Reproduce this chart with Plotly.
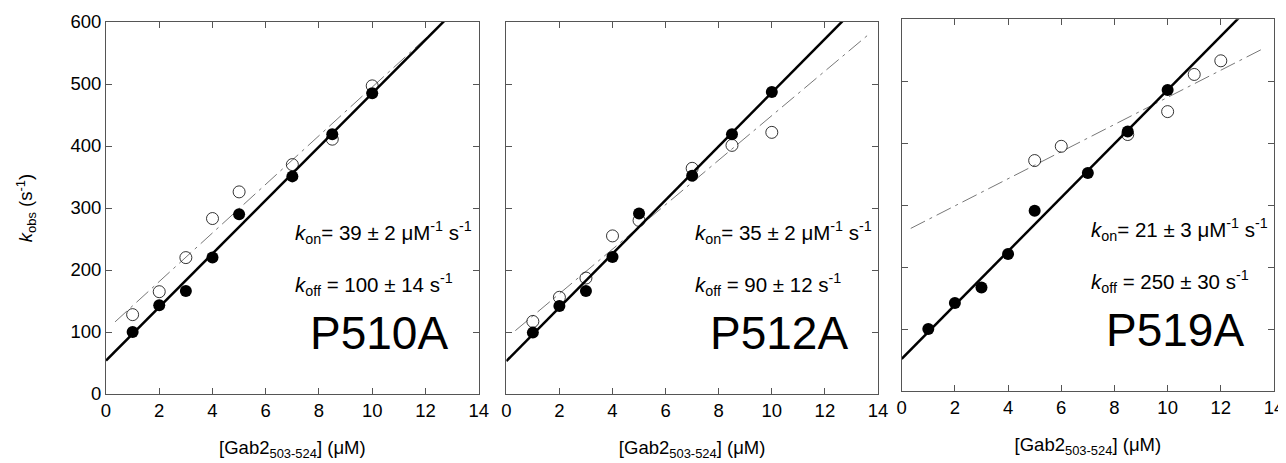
import plotly.graph_objects as go

# ---------------- data ----------------
panel_names = ["P510A", "P512A", "P519A"]
kon_text = ["39 ± 2", "35 ± 2", "21 ± 3"]
koff_text = ["100 ± 14", "90 ± 12", "250 ± 30"]

filled_x = [1, 2, 3, 4, 5, 7, 8.5, 10]
filled_y_p510 = [100, 143, 166, 220, 290, 351, 419, 485]
filled_y_p512 = [99, 142, 166, 221, 291, 352, 419, 487]
filled_y_p519 = [100, 142, 167, 221, 291, 352, 419, 486]

open_x_p510 = [1, 2, 3, 4, 5, 7, 8.5, 10]
open_y_p510 = [128, 165, 220, 283, 326, 370, 411, 497]
open_x_p512 = [1, 2, 3, 4, 5, 7, 8.5, 10]
open_y_p512 = [117, 156, 187, 255, 280, 364, 401, 422]
open_x_p519 = [5, 6, 8.5, 10, 11, 12]
open_y_p519 = [372, 395, 414, 451, 511, 533]

# linear fits (intercept, slope)
solid_intercept = [54, 53, 52]
solid_slope = [43.1, 43.3, 43.4]
dash_intercept = [103, 90, 255]
dash_slope = [39.2, 35.9, 21.9]
solid_x_range = [0, 14]
dash_x_range = [0.34, 13.66]

x_ticks = [0, 2, 4, 6, 8, 10, 12, 14]
y_ticks = [0, 100, 200, 300, 400, 500, 600]

filled_y = [filled_y_p510, filled_y_p512, filled_y_p519]
open_x = [open_x_p510, open_x_p512, open_x_p519]
open_y = [open_y_p510, open_y_p512, open_y_p519]

# ---------------- layout geometry ----------------
OFF = 8                      # page body margin
W, H = 1286 - OFF, 463 - OFF
FONT = "Liberation Sans, Arial, sans-serif"
x_dom_px = [(106, 478.7), (506.3, 878), (901.7, 1274)]
y_dom_px = [(22, 394), (22, 394), (19.3, 391)]


def px(v):
    return (v - OFF) / W


def py(v):
    return 1 - (v - OFF) / H


fig = go.Figure()

for i in range(3):
    ax = "" if i == 0 else str(i + 1)
    xa, ya = "x" + ax, "y" + ax
    dx = dash_x_range
    fig.add_trace(go.Scatter(
        x=dx, y=[dash_intercept[i] + dash_slope[i] * v for v in dx],
        mode="lines", line=dict(color="#777777", width=1, dash="16px,5px,3px,5px"),
        xaxis=xa, yaxis=ya, showlegend=False, hoverinfo="skip"))
    sx = solid_x_range
    fig.add_trace(go.Scatter(
        x=sx, y=[solid_intercept[i] + solid_slope[i] * v for v in sx],
        mode="lines", line=dict(color="black", width=2.5),
        xaxis=xa, yaxis=ya, showlegend=False, hoverinfo="skip"))
    fig.add_trace(go.Scatter(
        x=open_x[i], y=open_y[i], mode="markers",
        marker=dict(symbol="circle-open", size=12, color="black", line=dict(width=0.8)),
        xaxis=xa, yaxis=ya, showlegend=False, cliponaxis=False))
    fig.add_trace(go.Scatter(
        x=filled_x, y=filled_y[i], mode="markers",
        marker=dict(symbol="circle", size=12, color="black"),
        xaxis=xa, yaxis=ya, showlegend=False, cliponaxis=False))

    x0, x1 = x_dom_px[i]
    yt, yb = y_dom_px[i]
    common = dict(showline=True, linecolor="#555555", linewidth=1, mirror="allticks",
                  ticks="inside", ticklen=6, tickcolor="#555555", showgrid=False,
                  zeroline=False, automargin=False,
                  tickfont=dict(family=FONT, size=18.5, color="black"))
    fig.layout["xaxis" + ax] = dict(
        domain=[px(x0), px(x1)], range=[0, 14], tickvals=x_ticks, anchor=ya,
        title=dict(text="[Gab2<sub>503-524</sub>] (μM)",
                   font=dict(family=FONT, size=18.5, color="black"), standoff=20),
        **common)
    fig.layout["yaxis" + ax] = dict(
        domain=[py(yb), py(yt)], range=[0, 600], tickvals=y_ticks,
        anchor=xa, showticklabels=(i == 0),
        title=dict(text="<i>k</i><sub>obs</sub> (s<sup>-1</sup>)" if i == 0 else "",
                   font=dict(family=FONT, size=18.5, color="black"), standoff=32),
        **common)

    fig.add_annotation(
        xref="paper", yref="paper", x=px(x0 + 187), y=py(yt + 210),
        xanchor="left", yanchor="middle", showarrow=False,
        text="<i>k</i><sub>on</sub>= " + kon_text[i] + " μM<sup>-1</sup> s<sup>-1</sup>",
        font=dict(family=FONT, size=20.5, color="black"))
    fig.add_annotation(
        xref="paper", yref="paper", x=px(x0 + 187), y=py(yt + 262),
        xanchor="left", yanchor="middle", showarrow=False,
        text="<i>k</i><sub>off</sub> = " + koff_text[i] + " s<sup>-1</sup>",
        font=dict(family=FONT, size=20.5, color="black"))
    fig.add_annotation(
        xref="paper", yref="paper", x=px(x0 + 273), y=py(yt + 311),
        xanchor="center", yanchor="middle", showarrow=False,
        text=panel_names[i], font=dict(family=FONT, size=46, color="black"))

fig.update_layout(width=W, height=H, margin=dict(l=0, r=0, t=0, b=0),
                  plot_bgcolor="white", paper_bgcolor="white")

fig.write_html("out.html")
